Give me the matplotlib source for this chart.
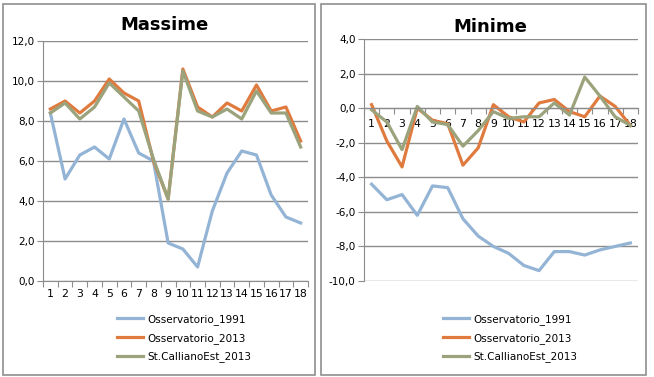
import matplotlib
matplotlib.use("Agg")
import matplotlib.pyplot as plt
from matplotlib.patches import Rectangle
from matplotlib.ticker import FuncFormatter, MultipleLocator
import numpy as np

categories = [str(i) for i in range(1, 19)]
series_names = ["Osservatorio_1991", "Osservatorio_2013", "St.CallianoEst_2013"]

max_oss1991 = [8.4, 5.1, 6.3, 6.7, 6.1, 8.1, 6.4, 6.0, 1.9, 1.6, 0.7, 3.5, 5.4, 6.5, 6.3, 4.3, 3.2, 2.9]
max_oss2013 = [8.6, 9.0, 8.4, 9.0, 10.1, 9.4, 9.0, 6.0, 4.1, 10.6, 8.7, 8.2, 8.9, 8.5, 9.8, 8.5, 8.7, 7.0]
max_stc2013 = [8.4, 8.9, 8.1, 8.7, 9.9, 9.2, 8.5, 6.1, 4.1, 10.5, 8.5, 8.2, 8.6, 8.1, 9.5, 8.4, 8.4, 6.7]

min_oss1991 = [-4.4, -5.3, -5.0, -6.2, -4.5, -4.6, -6.4, -7.4, -8.0, -8.4, -9.1, -9.4, -8.3, -8.3, -8.5, -8.2, -8.0, -7.8]
min_oss2013 = [0.2, -1.9, -3.4, 0.0, -0.7, -0.9, -3.3, -2.3, 0.2, -0.5, -0.8, 0.3, 0.5, -0.2, -0.5, 0.7, 0.1, -1.0]
min_stc2013 = [-0.1, -0.8, -2.4, 0.1, -0.8, -0.95, -2.2, -1.3, -0.2, -0.6, -0.5, -0.5, 0.3, -0.4, 1.8, 0.7, -0.5, -1.0]

colors = ["#94B4D6", "#E07B40", "#9BA37C"]
grid_col = "#8C8C8C"

plt.rcParams['font.family'] = ['DejaVu Sans']

fig = plt.figure(figsize=(6.54, 3.77), dpi=100)

# panel borders
for (x0, x1) in [(3, 315), (321, 646)]:
    fig.patches.append(Rectangle((x0 / 654, 1 - 375 / 377), (x1 - x0) / 654, (375 - 4) / 377,
                                 transform=fig.transFigure, fill=False, edgecolor="#8F8F8F",
                                 linewidth=1.2))

fmt = FuncFormatter(lambda v, p: f"{v:.1f}".replace(".", ","))

def setup(ax, ylim, step, xpad):
    x = np.arange(len(categories))
    ax.set_xlim(-0.5, len(categories) - 0.5)
    ax.set_ylim(*ylim)
    ax.yaxis.set_major_locator(MultipleLocator(step))
    ax.yaxis.set_major_formatter(fmt)
    ax.grid(axis="y", color=grid_col, linewidth=1.0)
    ax.set_axisbelow(True)
    for s in ["top", "right"]:
        ax.spines[s].set_visible(False)
    ax.spines["left"].set_color(grid_col)
    ax.spines["bottom"].set_color(grid_col)
    ax.spines["bottom"].set_position(("data", 0))
    ax.set_xticks(np.arange(-0.5, len(categories), 1.0))
    ax.set_xticklabels([])
    ax.set_xticks(x, minor=True)
    ax.set_xticklabels(categories, minor=True)
    ax.tick_params(axis="x", which="major", length=4, color=grid_col, direction="out")
    ax.tick_params(axis="x", which="minor", length=0, labelsize=7.8, pad=xpad)
    ax.tick_params(axis="y", length=4, color=grid_col, labelsize=7.5, pad=2)
    return x

leg_kw = dict(loc="upper left", frameon=False, fontsize=7.5, borderpad=0, borderaxespad=0,
              handlelength=2.5, handletextpad=0.4, labelspacing=0.74)

ax1 = fig.add_axes([43 / 654, 1 - 281 / 377, (308 - 43) / 654, (281 - 41) / 377])
x = setup(ax1, (0, 12), 2, 5.5)
for vals, c, n in zip([max_oss1991, max_oss2013, max_stc2013], colors, series_names):
    ax1.plot(x, vals, color=c, linewidth=2.3, label=n, solid_joinstyle="round")
ax1.legend(bbox_to_anchor=((117 - 43) / 265, (281 - 314) / 240), **leg_kw)
fig.text(165 / 654, 1 - 25 / 377, "Massime", ha="center", va="center", fontsize=13, fontweight="bold")

ax2 = fig.add_axes([364 / 654, 1 - 281 / 377, (638 - 364) / 654, (281 - 39) / 377])
x = setup(ax2, (-10, 4), 2, 8)
for vals, c, n in zip([min_oss1991, min_oss2013, min_stc2013], colors, series_names):
    ax2.plot(x, vals, color=c, linewidth=2.3, label=n, solid_joinstyle="round")
ax2.legend(bbox_to_anchor=((443 - 364) / 274, (281 - 314) / 242), **leg_kw)
fig.text(490 / 654, 1 - 27 / 377, "Minime", ha="center", va="center", fontsize=13, fontweight="bold")

fig.savefig("out.png", dpi=100)
